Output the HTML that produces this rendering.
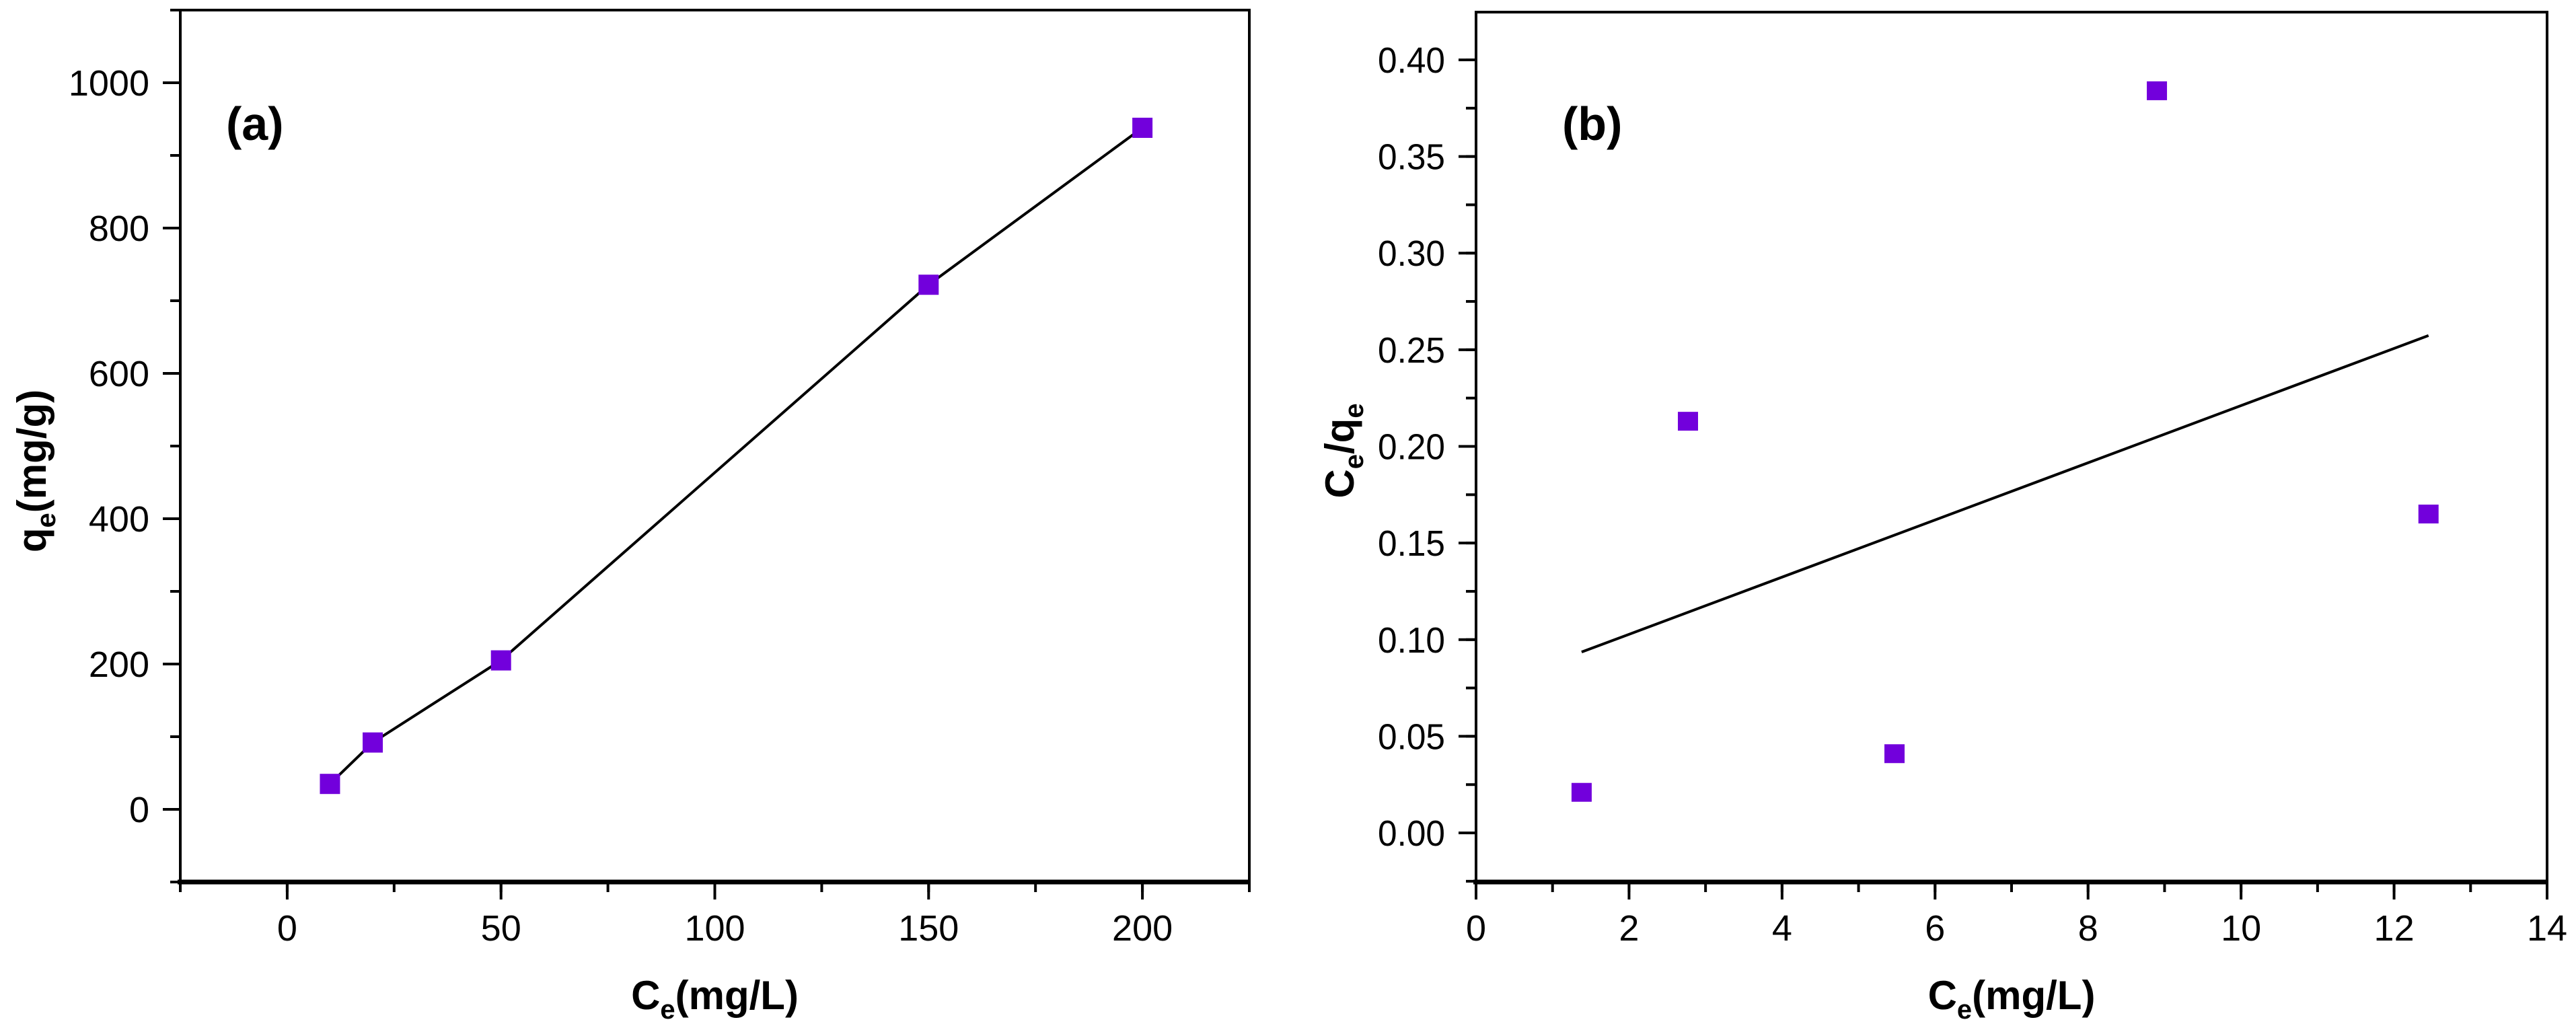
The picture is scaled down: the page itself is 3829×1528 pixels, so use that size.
<!DOCTYPE html>
<html><head><meta charset="utf-8"><title>Adsorption isotherm plots</title>
<style>
html,body{margin:0;padding:0;background:#fff;}
svg{display:block;}
text{font-family:"Liberation Sans",Arial,sans-serif;fill:#000;}
</style></head>
<body>
<svg id="fig" width="3829" height="1528" viewBox="0 0 3829 1528" xmlns="http://www.w3.org/2000/svg">
<rect width="3829" height="1528" fill="#fff"/>
<g id="chartA"></g>
<g id="chartB"></g>
</svg>
<script>
// ---- Chart (a) data ----
const aX = [10, 20, 50, 150, 200];
const aY = [35, 92, 205, 722, 938];
const aXTicks = [0, 50, 100, 150, 200];
const aYTicks = [0, 200, 400, 600, 800, 1000];
const aXTickLabels = ["0", "50", "100", "150", "200"];
const aYTickLabels = ["0", "200", "400", "600", "800", "1000"];
// ---- Chart (b) data ----
const bX = [1.38, 2.77, 5.47, 8.9, 12.45];
const bY = [0.021, 0.213, 0.041, 0.384, 0.165];
const bXTicks = [0, 2, 4, 6, 8, 10, 12, 14];
const bYTicks = [0, 0.05, 0.10, 0.15, 0.20, 0.25, 0.30, 0.35, 0.40];
const bXTickLabels = ["0", "2", "4", "6", "8", "10", "12", "14"];
const bYTickLabels = ["0.00", "0.05", "0.10", "0.15", "0.20", "0.25", "0.30", "0.35", "0.40"];

const NS = "http://www.w3.org/2000/svg";
const MARK = "#7200dc";
function mk(tag, attrs, parent) {
  const e = document.createElementNS(NS, tag);
  for (const k in attrs) e.setAttribute(k, attrs[k]);
  parent.appendChild(e);
  return e;
}
function scale(d0, d1, r0, r1) { return v => r0 + (v - d0) / (d1 - d0) * (r1 - r0); }

function drawChart(g, cfg) {
  const sx = scale(cfg.xmin, cfg.xmax, cfg.L, cfg.R);
  const sy = scale(cfg.ymin, cfg.ymax, cfg.B, cfg.T);
  // frame
  const fr = mk("rect", {x: cfg.L, y: cfg.T, width: cfg.R - cfg.L, height: cfg.B - cfg.T, fill: "none", stroke: "#000", "stroke-width": 4}, g);
  
  
  const xa = mk("line", {x1: cfg.L - 4, x2: cfg.R + 2, y1: cfg.B, y2: cfg.B, stroke: "#000", "stroke-width": 7}, g);
  
  
  // x ticks
  cfg.xTicks.forEach((v, i) => {
    const x = sx(v);
    const t = mk("line", {x1: x, x2: x, y1: cfg.B, y2: cfg.B + 26, stroke: "#000", "stroke-width": 4}, g);
    
    
    const lb = mk("text", {x: x, y: cfg.B + 87, "font-size": 54, "text-anchor": "middle"}, g);
    lb.textContent = cfg.xLabels[i];
    
    
  });
  for (let v = cfg.xmin; v <= cfg.xmax + 1e-9; v += cfg.xMinor) {
    const x = sx(v);
    const t = mk("line", {x1: x, x2: x, y1: cfg.B, y2: cfg.B + 15, stroke: "#000", "stroke-width": 4}, g);
    
    
  }
  // y ticks
  cfg.yTicks.forEach((v, i) => {
    const y = sy(v);
    const t = mk("line", {x1: cfg.L - 26, x2: cfg.L, y1: y, y2: y, stroke: "#000", "stroke-width": 4}, g);
    
    
    const lb = mk("text", {x: cfg.L - 46, y: y + 19, "font-size": 54, "text-anchor": "end"}, g);
    lb.textContent = cfg.yLabels[i];
    if (cfg.wideY) { lb.setAttribute("textLength", 100); lb.setAttribute("lengthAdjust", "spacingAndGlyphs"); }
    
    
  });
  for (let v = cfg.yMinorStart; v <= cfg.ymax + 1e-9; v += cfg.yMinor) {
    const y = sy(v);
    const t = mk("line", {x1: cfg.L - 15, x2: cfg.L, y1: y, y2: y, stroke: "#000", "stroke-width": 4}, g);
    
    
  }
  // x title
  const xt = mk("text", {x: (cfg.L + cfg.R) / 2, y: 1500, "font-size": 60, "font-weight": "bold", "text-anchor": "middle"}, g);
  xt.innerHTML = 'C<tspan font-size="40" dy="14">e</tspan><tspan dy="-14">(mg/L)</tspan>';
  
  
  // y title
  const yt = mk("text", {x: 0, y: 0, "font-size": 60, "font-weight": "bold", "text-anchor": "middle", transform: `translate(${cfg.yTitleX},${cfg.yTitleY}) rotate(-90)`}, g);
  yt.innerHTML = cfg.yTitle;
  
  
  // panel label
  const pl = mk("text", {x: cfg.labelX, y: 208, "font-size": 70, "font-weight": "bold"}, g);
  pl.textContent = cfg.panel;
  
  
  return {sx, sy};
}

// Chart A
const gA = document.getElementById("chartA");
const A = drawChart(gA, {L: 268, R: 1857, T: 15, B: 1311, xmin: -25, xmax: 225, ymin: -100, ymax: 1100,
  xTicks: aXTicks, xLabels: aXTickLabels, yTicks: aYTicks, yLabels: aYTickLabels,
  xMinor: 25, yMinor: 100, yMinorStart: -100, wideY: false,
  yTitle: 'q<tspan font-size="40" dy="14">e</tspan><tspan dy="-14">(mg/g)</tspan>', yTitleX: 68, yTitleY: 700,
  panel: "(a)", labelX: 336});
let pts = aX.map((v, i) => A.sx(v) + "," + A.sy(aY[i])).join(" ");
const lineA = mk("polyline", {points: pts, fill: "none", stroke: "#000", "stroke-width": 4}, gA);


aX.forEach((v, i) => {
  const r = mk("rect", {x: A.sx(v) - 15, y: A.sy(aY[i]) - 15, width: 30, height: 30, fill: MARK}, gA);
  
  
});

// Chart B
const gB = document.getElementById("chartB");
const B = drawChart(gB, {L: 2194, R: 3786, T: 18, B: 1311, xmin: 0, xmax: 14, ymin: -0.0254, ymax: 0.4247,
  xTicks: bXTicks, xLabels: bXTickLabels, yTicks: bYTicks, yLabels: bYTickLabels,
  xMinor: 1, yMinor: 0.025, yMinorStart: -0.025, wideY: true,
  yTitle: 'C<tspan font-size="40" dy="14">e</tspan><tspan dy="-14">/q</tspan><tspan font-size="40" dy="14">e</tspan>', yTitleX: 2012, yTitleY: 670,
  panel: "(b)", labelX: 2322});
// linear fit from data
const n = bX.length;
const mx = bX.reduce((a, b) => a + b, 0) / n, my = bY.reduce((a, b) => a + b, 0) / n;
let sxy = 0, sxx = 0;
for (let i = 0; i < n; i++) { sxy += (bX[i] - mx) * (bY[i] - my); sxx += (bX[i] - mx) ** 2; }
const slope = sxy / sxx, icpt = my - slope * mx;
const x0 = Math.min(...bX), x1 = Math.max(...bX);
const fit = mk("line", {x1: B.sx(x0), y1: B.sy(icpt + slope * x0), x2: B.sx(x1), y2: B.sy(icpt + slope * x1), stroke: "#000", "stroke-width": 4}, gB);


bX.forEach((v, i) => {
  const r = mk("rect", {x: B.sx(v) - 15, y: B.sy(bY[i]) - 14, width: 30, height: 28, fill: MARK}, gB);
  
  
});
</script>
</body></html>
